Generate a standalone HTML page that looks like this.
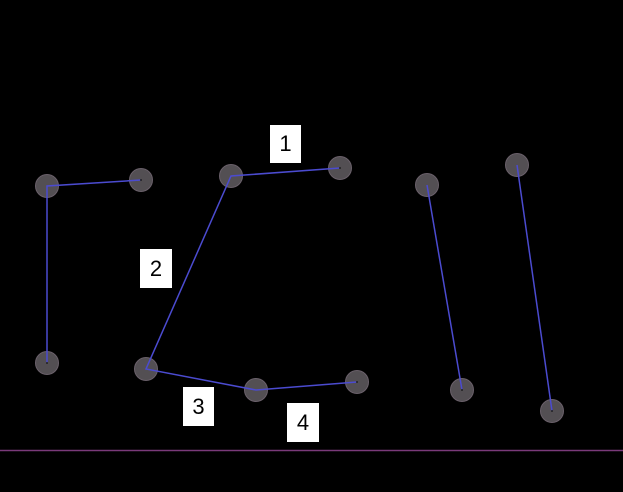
<!DOCTYPE html><html><head><style>body{margin:0;background:#000;width:623px;height:492px;overflow:hidden}
.l{position:absolute;background:#fff;font:22px "Liberation Sans",sans-serif;color:#000;display:flex;align-items:center;justify-content:center}</style></head><body>
<svg width="623" height="492" style="position:absolute;left:0;top:0">
<g fill="#5c585c" fill-opacity="0.9" stroke="#6a606a" stroke-width="1">
<circle cx="47" cy="186" r="11.5"/><circle cx="141" cy="180" r="11.5"/><circle cx="47" cy="363" r="11.5"/>
<circle cx="231" cy="176" r="11.5"/><circle cx="340" cy="168" r="11.5"/><circle cx="146" cy="369" r="11.5"/>
<circle cx="256" cy="390" r="11.5"/><circle cx="357" cy="382" r="11.5"/>
<circle cx="427" cy="185" r="11.5"/><circle cx="462" cy="390" r="11.5"/>
<circle cx="517" cy="165" r="11.5"/><circle cx="552" cy="411" r="11.5"/>
</g>
<g stroke="#4b4bd0" stroke-width="1.5" fill="none">
<polyline points="141,180 47,186 47,363"/>
<polyline points="340,168 231,176 146,369 256,390 357,382"/>
<line x1="427" y1="185" x2="462" y2="390"/>
<line x1="517" y1="165" x2="552" y2="411"/>
</g>
<g fill="#222">
<circle cx="141" cy="180" r="1"/><circle cx="340" cy="168" r="1"/><circle cx="357" cy="382" r="1"/>
<circle cx="47" cy="363" r="1"/><circle cx="462" cy="390" r="1"/><circle cx="552" cy="411" r="1"/>
</g>
<line x1="0" y1="450.5" x2="623" y2="450.5" stroke="#7a3a7a" stroke-width="1.5"/>
</svg>
<div class="l" style="left:270px;top:125px;width:31px;height:38px">1</div>
<div class="l" style="left:140px;top:249px;width:32px;height:39px">2</div>
<div class="l" style="left:183px;top:387px;width:31px;height:39px">3</div>
<div class="l" style="left:287px;top:403px;width:32px;height:39px">4</div>
</body></html>
